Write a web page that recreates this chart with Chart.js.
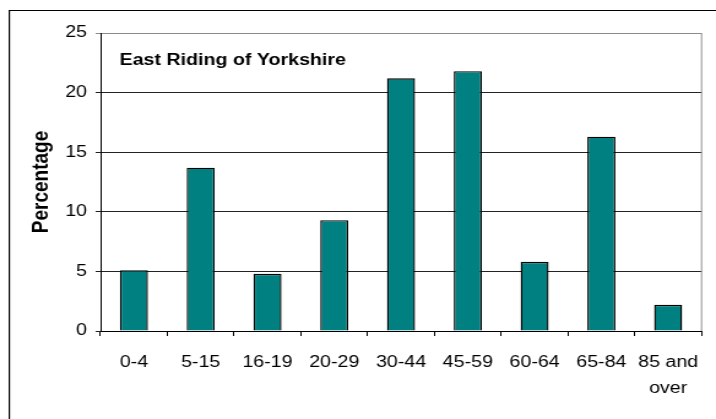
<!DOCTYPE html>
<html>
<head>
<meta charset="utf-8">
<script src="https://cdn.jsdelivr.net/npm/chart.js@4"></script>
<style>
  html, body { margin: 0; padding: 0; background: #fff; overflow: hidden; }
  #wrap { width: 716px; height: 419px; overflow: hidden; }
  /* the source picture is stretched sideways, so draw narrow and widen */
  #myChart { transform: scaleX(1.226); transform-origin: 0 0; }
</style>
</head>
<body>
<div id="wrap">
  <canvas id="myChart" width="584" height="419" style="width:584px;height:419px"></canvas>
</div>
<script>
var ageGroups = ['0-4', '5-15', '16-19', '20-29', '30-44', '45-59', '60-64', '65-84', ['85 and', 'over']];
var percentages = [5.1, 13.7, 4.8, 9.3, 21.2, 21.8, 5.8, 16.3, 2.2];
var yTicks = [0, 5, 10, 15, 20, 25];
var areaName = 'East Riding of Yorkshire';

// frame, plot border and the area name
var decor = {
    id: 'decor',
    beforeDraw: function(chart) {
        var c = chart.ctx;
        c.save();
        c.strokeStyle = '#000';
        c.lineWidth = 1.2;
        c.beginPath();
        c.moveTo(7.6, 419);
        c.lineTo(7.6, 10.5);
        c.lineTo(584, 10.5);
        c.stroke();
        c.restore();
    },
    afterDatasetsDraw: function(chart) {
        var c = chart.ctx;
        var a = chart.chartArea;
        c.save();
        c.strokeStyle = '#8c8c8c';
        c.lineWidth = 1;
        c.beginPath();
        c.moveTo(a.right, a.top);
        c.lineTo(a.right, a.bottom);
        c.stroke();
        c.fillStyle = '#000';
        c.font = 'bold 16px "Liberation Sans", Arial, sans-serif';
        c.textBaseline = 'alphabetic';
        c.fillText(areaName, a.left + 15.5, 64.5);
        c.restore();
    }
};

var ctx = document.getElementById('myChart');
var myChart = new Chart(ctx, {
    type: 'bar',
    data: {
        labels: ageGroups,
        datasets: [{
            label: 'Percentage',
            data: percentages,
            backgroundColor: '#008080',
            borderColor: '#000',
            borderWidth: 1.4,
            barPercentage: 0.42,
            categoryPercentage: 1
        }]
    },
    options: {
        responsive: false,
        animation: false,
        devicePixelRatio: 1,
        layout: { padding: { left: 0, top: 33, right: 10, bottom: 0 } },
        plugins: {
            legend: { display: false },
            tooltip: { enabled: false }
        },
        scales: {
            x: {
                offset: true,
                grid: { display: true, drawOnChartArea: false, drawTicks: true, tickLength: 5, color: '#000', offset: true },
                border: { display: true, color: '#000', width: 1 },
                ticks: {
                    color: '#000',
                    padding: 14,
                    maxRotation: 0,
                    autoSkip: false,
                    font: { family: '"Liberation Sans", Arial, sans-serif', size: 16, lineHeight: 1.6 }
                },
                afterFit: function(scale) { scale.height = 88; }
            },
            y: {
                min: 0,
                max: 25,
                afterBuildTicks: function(scale) {
                    scale.ticks = yTicks.map(function(v) { return { value: v }; });
                },
                grid: {
                    tickLength: 4,
                    color: function(c) { return c.tick && c.tick.value === 25 ? '#8c8c8c' : '#222'; },
                    lineWidth: 1
                },
                border: { display: true, color: '#000', width: 1 },
                ticks: {
                    color: '#000',
                    padding: 7,
                    font: { family: '"Liberation Sans", Arial, sans-serif', size: 16 }
                },
                title: {
                    display: true,
                    text: 'Percentage',
                    color: '#000',
                    padding: { top: 22, bottom: 0 },
                    font: { family: '"Liberation Sans", Arial, sans-serif', size: 19, weight: 'bold', lineHeight: 1.2 }
                },
                afterFit: function(scale) { scale.width = 82; }
            }
        }
    },
    plugins: [decor]
}); // myChart
</script>
</body>
</html>
